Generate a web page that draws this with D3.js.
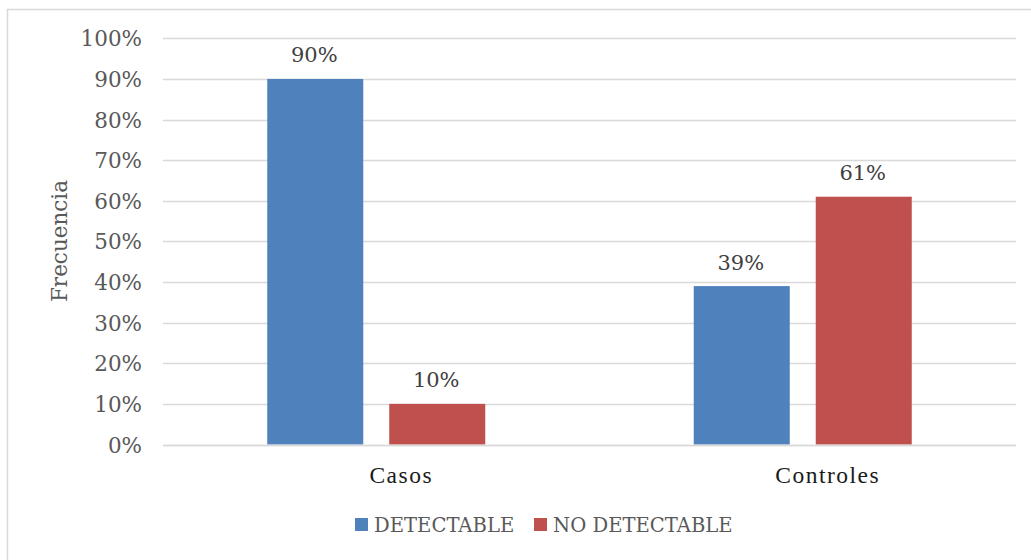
<!DOCTYPE html>
<html><head><meta charset="utf-8">
<script src="https://cdn.jsdelivr.net/npm/d3@7"></script>
<style>body{margin:0;background:#fff}svg{display:block}</style>
</head><body>
<script>
const categories = ["Casos", "Controles"];
const series = ["DETECTABLE", "NO DETECTABLE"];
const detectable = [0.90, 0.39];
const noDetectable = [0.10, 0.61];
const tickValues = [0, 0.1, 0.2, 0.3, 0.4, 0.5, 0.6, 0.7, 0.8, 0.9, 1.0];
const colors = ["#4F81BD", "#C0504D"];
const yTitle = "Frecuencia";

(function () {
const W = 1031, H = 560;
const svg = d3.select("body").append("svg").attr("width", W).attr("height", H);

svg.append("rect").attr("x", 7.5).attr("y", 9.5).attr("width", 1030).attr("height", 560)
  .attr("fill", "#fff").attr("stroke", "#D9D9D9").attr("stroke-width", 1.5);

const pLeft = 163, pRight = 1016, pTop = 38.3, pBottom = 444.5;
const y = d3.scaleLinear().domain([0, 1]).range([pBottom, pTop]);
const x0 = d3.scaleBand().domain(categories).range([pLeft, pRight]).padding(0);
const x1 = d3.scaleBand().domain(series).range([0, x0.bandwidth()])
  .paddingInner(0.213).paddingOuter(0.8545);

// gridlines
svg.append("g").selectAll("line").data(tickValues).join("line")
  .attr("x1", pLeft).attr("x2", pRight)
  .attr("y1", d => Math.round(y(d)) + 0.5).attr("y2", d => Math.round(y(d)) + 0.5)
  .attr("stroke", "#D9D9D9").attr("stroke-width", 1.5);

// y axis labels
const yAxis = d3.axisLeft(y).tickValues(tickValues).tickFormat(d3.format(".0%")).tickSize(0).tickPadding(0);
const ga = svg.append("g").attr("transform", `translate(142,0)`).call(yAxis);
ga.select(".domain").remove();
ga.selectAll("text").attr("font-family", "DejaVu Serif").attr("font-size", 21.5)
  .attr("fill", "#595959").attr("dy", "0.35em");

const data = categories.map((c, i) => ({cat: c, vals: [detectable[i], noDetectable[i]]}));

const groups = svg.append("g").selectAll("g").data(data).join("g")
  .attr("transform", d => `translate(${x0(d.cat)},0)`);

groups.selectAll("rect").data(d => d.vals.map((v, j) => ({s: series[j], v, j}))).join("rect")
  .attr("x", d => x1(d.s)).attr("width", x1.bandwidth())
  .attr("y", d => y(d.v)).attr("height", d => pBottom - y(d.v))
  .attr("fill", d => colors[d.j]);

groups.selectAll("text.val").data(d => d.vals.map((v, j) => ({s: series[j], v, j}))).join("text")
  .attr("class", "val")
  .attr("x", d => x1(d.s) + x1.bandwidth() / 2 - 1).attr("y", d => y(d.v) - 16.5)
  .attr("text-anchor", "middle").attr("font-family", "DejaVu Serif").attr("font-size", 21)
  .attr("fill", "#404040").text(d => d3.format(".0%")(d.v));

// baseline axis line
svg.append("line").attr("x1", pLeft).attr("x2", pRight)
  .attr("y1", Math.round(y(0)) + 0.5).attr("y2", Math.round(y(0)) + 0.5)
  .attr("stroke", "#D9D9D9").attr("stroke-width", 1.5);

// category labels
svg.append("g").selectAll("text").data(categories).join("text")
  .attr("x", d => x0(d) + x0.bandwidth() / 2 + 25).attr("y", 483)
  .attr("text-anchor", "middle").attr("font-family", "Liberation Serif").attr("font-size", 23.5)
  .attr("letter-spacing", 1.5).attr("fill", "#1a1a1a").text(d => d);

// y title
svg.append("text").attr("transform", "translate(67,241) rotate(-90)")
  .attr("text-anchor", "middle").attr("font-family", "DejaVu Serif").attr("font-size", 21.5)
  .attr("fill", "#595959").text(yTitle);

// legend
const legendX = [355, 534];
const lg = svg.append("g").selectAll("g").data(series).join("g")
  .attr("transform", (d, i) => `translate(${legendX[i]},0)`);
lg.append("rect").attr("x", 0).attr("y", 518).attr("width", 13).attr("height", 13)
  .attr("fill", (d, i) => colors[i]);
lg.append("text").attr("x", 19).attr("y", 532).attr("font-family", "DejaVu Serif")
  .attr("font-size", 19.6).attr("fill", "#595959").text(d => d);
})();
</script>
</body></html>
